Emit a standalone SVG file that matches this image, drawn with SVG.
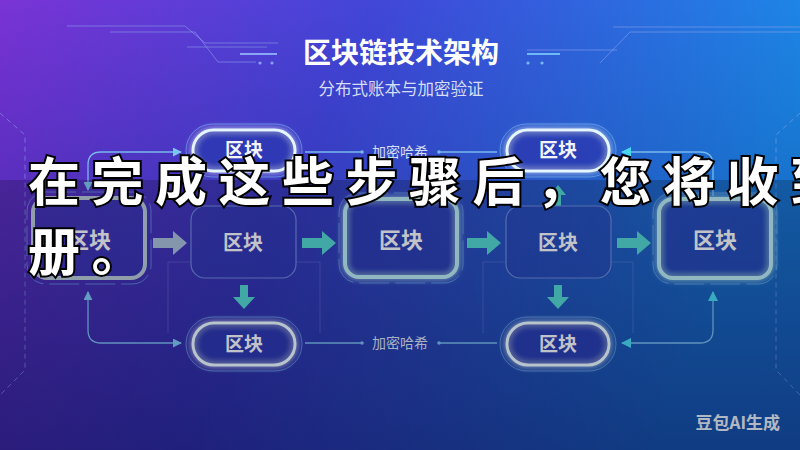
<svg xmlns="http://www.w3.org/2000/svg" width="800" height="450" viewBox="0 0 800 450">
<defs>
<linearGradient id="bg" x1="0" y1="0" x2="1" y2="0.25">
<stop offset="0" stop-color="#7a33d6"/>
<stop offset="0.45" stop-color="#4147d8"/>
<stop offset="1" stop-color="#1a8ce8"/>
</linearGradient>
<linearGradient id="shade" x1="0" y1="0" x2="0" y2="1">
<stop offset="0" stop-color="#100a60" stop-opacity="0"/>
<stop offset="1" stop-color="#100a60" stop-opacity="0.5"/>
</linearGradient>
<filter id="glow" x="-30%" y="-50%" width="160%" height="200%">
<feGaussianBlur stdDeviation="3" result="b"/>
<feMerge><feMergeNode in="b"/><feMergeNode in="SourceGraphic"/></feMerge>
</filter>
<marker id="ah" viewBox="0 0 10 10" refX="9" refY="5" markerWidth="9" markerHeight="9" markerUnits="userSpaceOnUse" orient="auto-start-reverse">
<path d="M0 0 L10 5 L0 10 z" fill="#7cc4f2"/>
</marker>
<marker id="ahc" viewBox="0 0 10 10" refX="9" refY="5" markerWidth="10" markerHeight="10" markerUnits="userSpaceOnUse" orient="auto-start-reverse">
<path d="M0 0 L10 5 L0 10 z" fill="#46d6f0"/>
</marker>
</defs>
<style>
.title{font-family:"Noto Sans CJK SC","Noto Sans",sans-serif;font-weight:700;fill:#ffffff}
.sub{font-family:"Noto Sans CJK SC","Noto Sans",sans-serif;fill:#d6def5}
.lbl{font-family:"Noto Sans CJK SC","Noto Sans",sans-serif;font-weight:700;fill:#f2f4fa;text-anchor:middle}
.small{font-family:"Noto Sans CJK SC","Noto Sans",sans-serif;fill:#d4def2;font-size:14px}
.deco{fill:none;stroke:#8fa6ee;stroke-width:1;opacity:0.55}
.pill{fill:#2a38b0;fill-opacity:0.55;stroke:#e6f6ff;stroke-width:3}
.ring{fill:none;stroke:#6fb0f2;stroke-width:1;opacity:0.6}
.thin{fill:#2c3cae;fill-opacity:0.35;stroke:#6c86da;stroke-width:1.2}
.thick{fill:#2a3aae;fill-opacity:0.4;stroke:#b6e6f2;stroke-width:4}
.conn{fill:none;stroke:#78b8ee;stroke-width:1.3}
.frame{fill:none;stroke:#8a9ae0;stroke-width:1;opacity:0.3}
.barrow{fill:#52d2d0}
.over{font-family:"Noto Sans CJK SC","Noto Sans",sans-serif;font-weight:700;font-size:52px;fill:#ffffff;stroke:#000000;stroke-width:4;paint-order:stroke;letter-spacing:11.5px}
</style>
<rect width="800" height="450" fill="url(#bg)"/>
<rect width="800" height="450" fill="url(#shade)"/>
<g id="decorations">
<path class="deco" d="M67 26 H185 L205 43 H278"/>
<path class="deco" d="M110 32 H195 L218 62 H256"/>
<path class="deco" d="M187 47 H267" opacity="0.7"/>
<path d="M240 54 H277" stroke="#9cc0ff" stroke-width="2" opacity="0.8"/>
<circle cx="260" cy="63" r="1.6" fill="#9cb8ff" opacity="0.8"/>
<circle cx="272" cy="63" r="1.6" fill="#9cb8ff" opacity="0.8"/>
<path class="deco" d="M613 27 H800"/>
<path class="deco" d="M600 63 L630 32 H800"/>
<path class="deco" d="M527 50 H617"/>
<path d="M527 54 H560" stroke="#7fd0ff" stroke-width="2" opacity="0.8"/>
<circle cx="528" cy="63" r="1.6" fill="#8ccfff" opacity="0.8"/>
<circle cx="542" cy="63" r="1.6" fill="#8ccfff" opacity="0.8"/>
<path class="deco" d="M0 113 L25 135 V370 L0 395" stroke-dasharray="5 4" opacity="0.35"/>
<path class="deco" d="M800 113 L776 135 V370 L800 395" stroke-dasharray="5 4" opacity="0.35"/>
<path class="frame" d="M190 262 H168 V333"/>
<path class="frame" d="M296 262 H320 V333"/>
<path class="frame" d="M505 262 H483 V333"/>
<path class="frame" d="M611 262 H633 V333"/>
</g>
<text class="title" x="401" y="63" font-size="28" text-anchor="middle">区块链技术架构</text>
<text class="sub" x="401" y="95" font-size="16.5" text-anchor="middle">分布式账本与加密验证</text>
<g id="connectors">
<path class="conn" d="M88 190 V165 Q88 152 101 152 H181" marker-start="url(#ah)" marker-end="url(#ah)"/>
<path class="conn" d="M305 152 H362"/>
<circle cx="362" cy="152" r="1.8" fill="#78b8ee"/>
<path class="conn" d="M439 152 H497"/>
<circle cx="439" cy="152" r="1.8" fill="#78b8ee"/>
<path class="conn" d="M622 152 H700 Q713 152 713 165 V196" marker-start="url(#ahc)"/>
<path class="conn" d="M88 292 V330 Q88 343 101 343 H181" marker-start="url(#ah)" marker-end="url(#ah)"/>
<path class="conn" d="M305 343 H362"/>
<circle cx="362" cy="343" r="1.8" fill="#78b8ee"/>
<path class="conn" d="M439 343 H497"/>
<circle cx="439" cy="343" r="1.8" fill="#78b8ee"/>
<path class="conn" d="M713 292 V330 Q713 343 700 343 H622" marker-start="url(#ahc)" marker-end="url(#ahc)"/>
<path d="M244 172 V206" stroke="#8c9ad8" stroke-width="3" opacity="0.6"/>
<path class="barrow" d="M555 206 V195 H550 L558 185 L566 195 H561 V206 Z"/>
<path d="M153 238 h20 v-7 l14 12 l-14 12 v-7 h-20 z" fill="#a4bcd8"/>
<path class="barrow" d="M302 238 h20 v-7 l14 12 l-14 12 v-7 h-20 z"/>
<path class="barrow" d="M467 238 h20 v-7 l14 12 l-14 12 v-7 h-20 z"/>
<path class="barrow" d="M617 238 h20 v-7 l14 12 l-14 12 v-7 h-20 z"/>
<path class="barrow" d="M240 285 h8 v12 h7 l-11 12 l-11 -12 h7 z"/>
<path class="barrow" d="M554 285 h8 v12 h7 l-11 12 l-11 -12 h7 z"/>
<text class="small" x="372" y="157">加密哈希</text>
<text class="small" x="372" y="348">加密哈希</text>
</g>
<g id="pill-top-1">
<rect class="ring" x="186" y="124" width="116" height="53" rx="26.5"/>
<rect class="pill" x="193" y="130" width="102" height="41" rx="20.5" filter="url(#glow)"/>
<text class="lbl" x="244" y="157" font-size="19">区块</text>
</g>
<g id="pill-top-2">
<rect class="ring" x="500" y="124" width="116" height="53" rx="26.5"/>
<rect class="pill" x="507" y="130" width="102" height="41" rx="20.5" filter="url(#glow)"/>
<text class="lbl" x="558" y="157" font-size="19">区块</text>
</g>
<g id="box-1">
<rect class="ring" x="27" y="192" width="124" height="92" rx="19" stroke-dasharray="30 6"/>
<rect class="thick" x="33" y="198" width="112" height="80" rx="14" style="stroke:#b4c6d6"/>
<text class="lbl" x="89" y="248" font-size="22">区块</text>
</g>
<g id="box-2">
<rect class="thin" x="191" y="206" width="105" height="72" rx="14"/>
<text class="lbl" x="243" y="250" font-size="20">区块</text>
</g>
<g id="box-3">
<rect class="ring" x="339" y="193" width="124" height="90" rx="19" stroke-dasharray="30 6"/>
<rect class="thick" x="345" y="199" width="112" height="78" rx="14" filter="url(#glow)"/>
<text class="lbl" x="401" y="248" font-size="22">区块</text>
</g>
<g id="box-4">
<rect class="thin" x="506" y="206" width="105" height="72" rx="14"/>
<text class="lbl" x="558" y="250" font-size="20">区块</text>
</g>
<g id="box-5">
<rect class="ring" x="653" y="193" width="124" height="91" rx="19" stroke-dasharray="30 6"/>
<rect class="thick" x="659" y="199" width="112" height="79" rx="14" filter="url(#glow)"/>
<text class="lbl" x="715" y="248" font-size="22">区块</text>
</g>
<g id="pill-bottom-1">
<rect class="ring" x="186" y="317" width="116" height="54" rx="27"/>
<rect class="pill" x="193" y="323" width="102" height="42" rx="21" filter="url(#glow)"/>
<text class="lbl" x="244" y="351" font-size="19">区块</text>
</g>
<g id="pill-bottom-2">
<rect class="ring" x="500" y="317" width="116" height="54" rx="27"/>
<rect class="pill" x="507" y="323" width="102" height="42" rx="21" filter="url(#glow)"/>
<text class="lbl" x="558" y="351" font-size="19">区块</text>
</g>
<text x="780" y="429" font-family="'Noto Sans CJK SC','Noto Sans',sans-serif" font-weight="700" font-size="17" fill="#dfe6f4" text-anchor="end">豆包AI生成</text>
<rect x="0" y="180" width="800" height="270" fill="#000000" opacity="0.2"/>
<text class="over" x="28" y="201">在完成这些步骤后，您将收到</text>
<text class="over" x="28" y="271">册。</text>
</svg>
